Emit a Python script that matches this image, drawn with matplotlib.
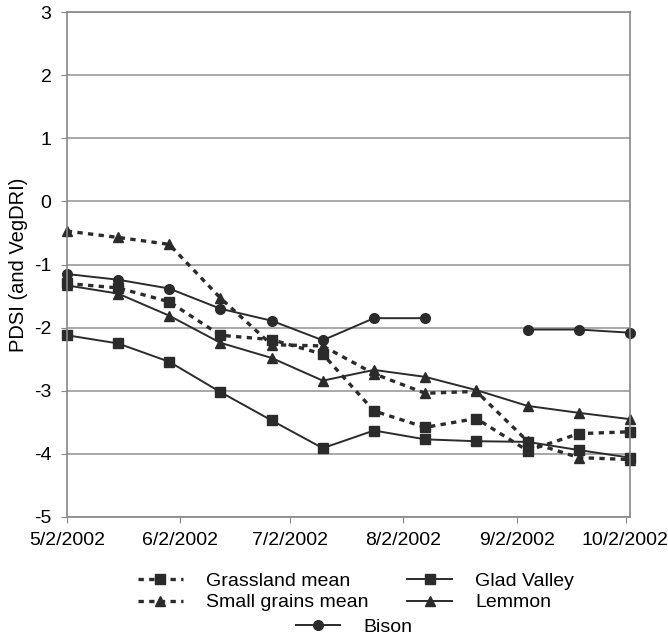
import numpy as np
import matplotlib
matplotlib.use("Agg")
import matplotlib.pyplot as plt
from matplotlib.lines import Line2D
from matplotlib.transforms import ScaledTranslation
import datetime as dt

plt.rcParams['font.family'] = ['Liberation Sans', 'DejaVu Sans']
plt.rcParams['axes.unicode_minus'] = False

# sample dates (biweekly)
dates = [dt.date(2002, 5, 2) + dt.timedelta(days=14 * k) for k in range(12)]

grassland_mean = [-1.30, -1.37, -1.59, -2.12, -2.19, -2.42, -3.32, -3.58, -3.44, -3.95, -3.68, -3.65]
small_grains_mean = [-0.47, -0.57, -0.68, -1.53, -2.27, -2.29, -2.73, -3.04, -3.01, -3.80, -4.06, -4.09]
glad_valley = [-2.12, -2.25, -2.54, -3.02, -3.47, -3.91, -3.63, -3.77, -3.80, -3.81, -3.94, -4.06]
lemmon = [-1.33, -1.46, -1.81, -2.24, -2.48, -2.84, -2.67, -2.78, -2.99, -3.24, -3.35, -3.45]
bison = [-1.15, -1.24, -1.38, -1.70, -1.89, -2.20, -1.85, -1.85, np.nan, -2.03, -2.03, -2.08]

tick_dates = [dt.date(2002, m, 2) for m in range(5, 11)]
tick_labels = ["5/2/2002", "6/2/2002", "7/2/2002", "8/2/2002", "9/2/2002", "10/2/2002"]

c = "#2b2b2b"
fig = plt.figure(figsize=(6.68, 6.39), dpi=100)
ax = fig.add_axes([0.100, 0.191, 0.843, 0.790])

dash_kw = dict(color=c, lw=2.4, dashes=(1.6, 1.6), markersize=7)
solid_kw = dict(color=c, lw=1.4, markersize=7)

for vals, m, kw in [(grassland_mean, 's', dash_kw), (small_grains_mean, '^', dash_kw),
                    (glad_valley, 's', solid_kw), (lemmon, '^', solid_kw),
                    (bison, 'o', solid_kw)]:
    ax.plot(dates, vals, marker=m, clip_on=False, **kw)

ax.set_xlim(dates[0], dates[-1])
ax.set_ylim(-5, 3)
ax.set_yticks(range(-5, 4))
ax.set_xticks(tick_dates)
ax.set_xticklabels(tick_labels)
ax.tick_params(labelsize=14, color="#888888", length=4, pad=7)
ax.grid(axis='y', color="#999999", lw=1.2)
ax.set_axisbelow(True)
for s in ax.spines.values():
    s.set_color("#888888")
    s.set_linewidth(1.2)
ax.set_ylabel("PDSI (and VegDRI)", fontsize=14.5, labelpad=4)
# keep the last date label inside the figure
labs = ax.get_xticklabels()
labs[-1].set_horizontalalignment('right')
labs[-1].set_transform(labs[-1].get_transform() + ScaledTranslation(0.42, 0, fig.dpi_scale_trans))

h_grass = Line2D([], [], marker='s', **dash_kw)
h_small = Line2D([], [], marker='^', **dash_kw)
h_glad = Line2D([], [], marker='s', **solid_kw)
h_lem = Line2D([], [], marker='^', **solid_kw)
h_bison = Line2D([], [], marker='o', **solid_kw)

fig.legend([h_grass, h_small, h_glad, h_lem],
           ["Grassland mean", "Small grains mean", "Glad Valley", "Lemmon"],
           ncol=2, loc='center', bbox_to_anchor=(0.533, 0.074),
           frameon=False, fontsize=14, handlelength=2.3, labelspacing=0.22,
           columnspacing=2.0, handletextpad=1.2)
fig.legend([h_bison], ["Bison"], loc='center', bbox_to_anchor=(0.53, 0.018),
           frameon=False, fontsize=14, handlelength=2.3, handletextpad=1.2)

fig.savefig("out.png", dpi=100)
